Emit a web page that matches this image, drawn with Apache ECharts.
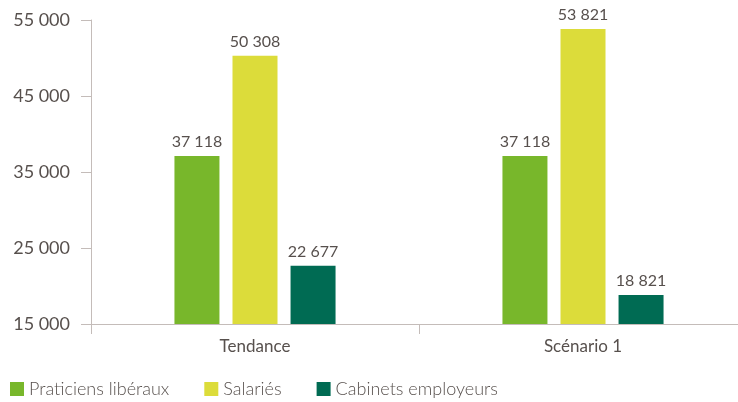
<!DOCTYPE html>
<html>
<head>
<meta charset="utf-8">
<script src="https://cdn.jsdelivr.net/npm/echarts@6/dist/echarts.min.js"></script>
<style>
  html, body { margin: 0; padding: 0; background: #fff; overflow: hidden; }
  #chart { width: 747px; height: 402px; }
</style>
</head>
<body>
<div id="chart"></div>
<script>
// Scenario categories and the three populations
const categories = ['Tendance', 'Scénario 1'];
const praticiensLiberaux = [37118, 37118];
const salaries = [50308, 53821];
const cabinetsEmployeurs = [22677, 18821];
const yTicks = [15000, 25000, 35000, 45000, 55000];

const textColor = '#57504d';
const lineColor = '#c4bcb9';
const font = 'Lato, "Open Sans", sans-serif';

function fmt(v) {
  return String(v).replace(/\B(?=(\d{3})+(?!\d))/g, ' ');
}

const labelCfg = {
  show: true,
  position: 'top',
  distance: 6,
  color: textColor,
  fontFamily: font,
  fontSize: 16,
  formatter: p => fmt(p.value)
};

const chart = echarts.init(document.getElementById('chart'));
chart.setOption({
  animation: false,
  grid: { left: 91, right: 0, top: 20, bottom: 78 },
  legend: {
    left: 5, top: 375,
    itemWidth: 14, itemHeight: 14, itemGap: 35,
    icon: 'rect',
    textStyle: { color: textColor, fontFamily: font, fontSize: 18, fontWeight: 300 },
    data: ['Praticiens libéraux', 'Salariés', 'Cabinets employeurs']
  },
  xAxis: {
    type: 'category',
    data: categories,
    axisLine: { lineStyle: { color: lineColor, width: 1 } },
    axisTick: { show: true, length: 10, lineStyle: { color: lineColor } },
    axisLabel: { color: textColor, fontFamily: font, fontSize: 17, margin: 14 }
  },
  yAxis: {
    type: 'value',
    min: yTicks[0], max: yTicks[yTicks.length - 1], interval: 10000,
    axisLine: { show: true, lineStyle: { color: lineColor } },
    axisTick: { show: true, inside: false, length: 10, lineStyle: { color: lineColor } },
    splitLine: { show: false },
    axisLabel: { color: textColor, fontFamily: font, fontSize: 18, margin: 21, formatter: v => fmt(v) }
  },
  series: [
    { name: 'Praticiens libéraux', type: 'bar', data: praticiensLiberaux, barWidth: 45, barGap: '29%', itemStyle: { color: '#78b72b' }, label: labelCfg },
    { name: 'Salariés', type: 'bar', data: salaries, barWidth: 45, barGap: '29%', itemStyle: { color: '#dcdc3a' }, label: labelCfg },
    { name: 'Cabinets employeurs', type: 'bar', data: cabinetsEmployeurs, barWidth: 45, barGap: '29%', itemStyle: { color: '#006b53' }, label: labelCfg }
  ]
});
</script>
</body>
</html>
